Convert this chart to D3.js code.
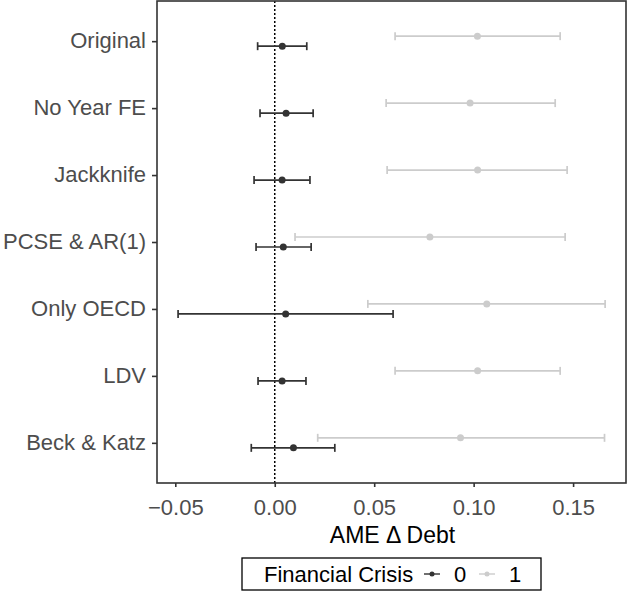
<!DOCTYPE html>
<html>
<head>
<meta charset="utf-8">
<script src="https://cdn.jsdelivr.net/npm/d3@7"></script>
<style>
  body { margin: 0; background: #fff; }
  text { font-family: "Liberation Sans", Arial, sans-serif; }
</style>
</head>
<body>
<svg id="chart" width="627" height="591"></svg>
<script>
// models, top to bottom
var models = ["Original", "No Year FE", "Jackknife", "PCSE & AR(1)", "Only OECD", "LDV", "Beck & Katz"];

// Financial Crisis = 0
var est0 = [0.0038, 0.0057, 0.0037, 0.0043, 0.0055, 0.0037, 0.0094];
var lo0  = [-0.0086, -0.0074, -0.0104, -0.0094, -0.0486, -0.0084, -0.0118];
var hi0  = [0.0161, 0.0193, 0.0177, 0.0183, 0.0595, 0.0157, 0.0302];

// Financial Crisis = 1
var est1 = [0.1019, 0.0982, 0.1020, 0.0780, 0.1066, 0.1020, 0.0934];
var lo1  = [0.0605, 0.0560, 0.0565, 0.0102, 0.0468, 0.0605, 0.0216];
var hi1  = [0.1435, 0.1410, 0.1470, 0.1460, 0.1661, 0.1435, 0.1658];

var xTicks = [-0.05, 0, 0.05, 0.10, 0.15];
var groups = ["0", "1"];
var groupColors = ["#333333", "#cccccc"];

var svg = d3.select("#chart");
var pLeft = 157, pRight = 626, pTop = 1, pBottom = 483;

var x = d3.scaleLinear().domain([-0.0592, 0.1766]).range([pLeft, pRight]);
var y = d3.scalePoint().domain(models).range([pTop, pBottom]).padding(0.6);
var dodge = y.step() * 0.075;

// build rows
var rows = [];
models.forEach(function(m, i){
    rows.push({model: m, g: 1, est: est1[i], lo: lo1[i], hi: hi1[i]});
    rows.push({model: m, g: 0, est: est0[i], lo: lo0[i], hi: hi0[i]});
});
function yPos(d){ return y(d.model) + (d.g == 0 ? dodge : -dodge); }

// zero line
svg.append("line")
    .attr("x1", x(0)).attr("x2", x(0))
    .attr("y1", pTop).attr("y2", pBottom)
    .attr("stroke", "#000").attr("stroke-width", 1.5)
    .attr("stroke-dasharray", "2,2");

var bars = svg.selectAll("g.bar").data(rows).enter().append("g").attr("class", "bar")
    .attr("stroke", function(d){ return groupColors[d.g]; })
    .attr("fill", function(d){ return groupColors[d.g]; })
    .attr("stroke-width", 1.7);

bars.append("line")
    .attr("x1", function(d){ return x(d.lo); }).attr("x2", function(d){ return x(d.hi); })
    .attr("y1", yPos).attr("y2", yPos);
bars.append("line")
    .attr("x1", function(d){ return x(d.lo); }).attr("x2", function(d){ return x(d.lo); })
    .attr("y1", function(d){ return yPos(d) - 4; }).attr("y2", function(d){ return yPos(d) + 4; });
bars.append("line")
    .attr("x1", function(d){ return x(d.hi); }).attr("x2", function(d){ return x(d.hi); })
    .attr("y1", function(d){ return yPos(d) - 4; }).attr("y2", function(d){ return yPos(d) + 4; });
bars.append("circle")
    .attr("cx", function(d){ return x(d.est); }).attr("cy", yPos)
    .attr("r", 3.5).attr("stroke", "none");

// panel border
svg.append("rect")
    .attr("x", pLeft).attr("y", pTop)
    .attr("width", pRight - pLeft).attr("height", pBottom - pTop)
    .attr("fill", "none").attr("stroke", "#333333").attr("stroke-width", 1.6);

// axes
var xAxis = svg.append("g").attr("transform", "translate(0," + pBottom + ")")
    .call(d3.axisBottom(x).tickValues(xTicks).tickSize(4)
        .tickFormat(function(d){ return d < 0 ? "\u2212" + d3.format(".2f")(-d) : d3.format(".2f")(d); }));
var yAxis = svg.append("g").attr("transform", "translate(" + pLeft + ",0)")
    .call(d3.axisLeft(y).tickSize(5).tickPadding(6));
[xAxis, yAxis].forEach(function(a){
    a.select(".domain").remove();
    a.selectAll(".tick line").attr("stroke", "#333333").attr("stroke-width", 1.6);
    a.selectAll(".tick text").attr("fill", "#4d4d4d").style("font-size", "22px")
        .style("font-family", "Liberation Sans, Arial, sans-serif");
});
xAxis.selectAll(".tick text").attr("y", 32).attr("dy", 0);
yAxis.selectAll(".tick text").attr("dy", "6.5px");

// x title
svg.append("text")
    .attr("x", (pLeft + pRight) / 2 + 1).attr("y", 543)
    .attr("text-anchor", "middle").style("font-size", "23px").attr("fill", "#000")
    .text("AME \u0394 Debt");

// legend
var lg = svg.append("g");
lg.append("rect").attr("x", 242).attr("y", 558).attr("width", 299).attr("height", 32)
    .attr("fill", "#fff").attr("stroke", "#000").attr("stroke-width", 1.3);
lg.append("text").attr("x", 264).attr("y", 581.5).style("font-size", "22px").attr("fill", "#000")
    .text("Financial Crisis");
var keyX = [432, 487];
groups.forEach(function(g, i){
    lg.append("line").attr("x1", keyX[i] - 8).attr("x2", keyX[i] + 8)
        .attr("y1", 574).attr("y2", 574)
        .attr("stroke", groupColors[i]).attr("stroke-width", 1.4);
    lg.append("circle").attr("cx", keyX[i]).attr("cy", 574).attr("r", 2.5)
        .attr("fill", groupColors[i]);
    lg.append("text").attr("x", keyX[i] + 28).attr("y", 581.5).attr("text-anchor", "middle")
        .style("font-size", "22px").attr("fill", "#000").text(g);
});
</script>
</body>
</html>
